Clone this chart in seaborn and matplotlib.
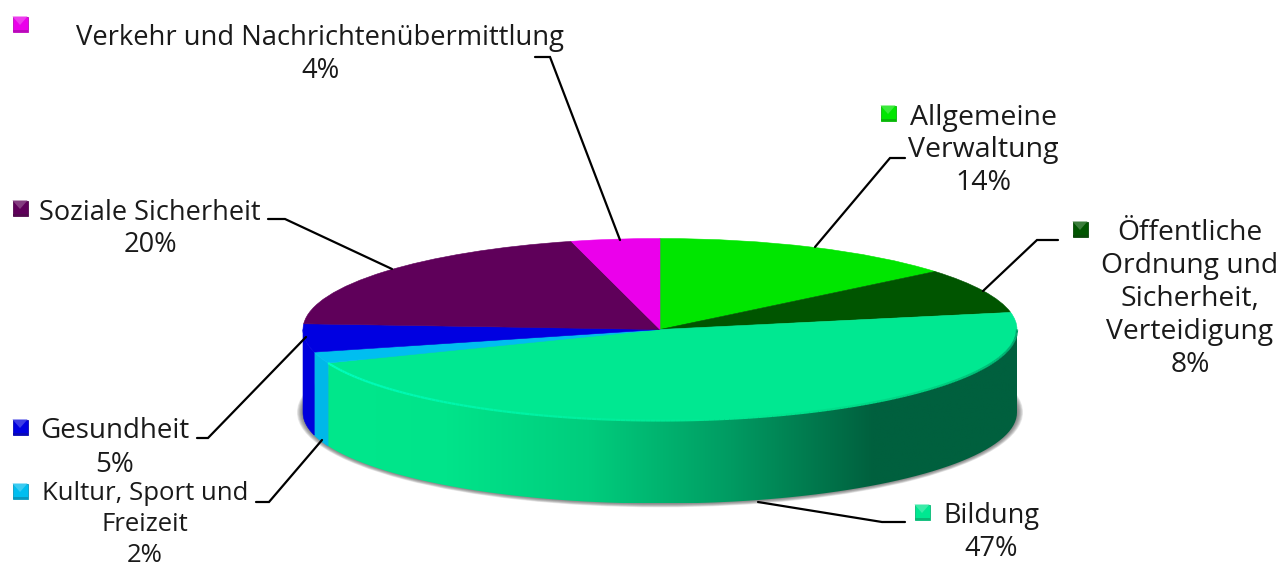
########################################################
# Required Python Packages
########################################################
import numpy as np
import seaborn as sns
import matplotlib.pyplot as plt
from matplotlib.patches import Ellipse, Polygon

########################################################
# Chart data
########################################################
CATEGORIES = ["Allgemeine Verwaltung", "Öffentliche Ordnung und Sicherheit, Verteidigung",
              "Bildung", "Kultur, Sport und Freizeit", "Gesundheit",
              "Soziale Sicherheit", "Verkehr und Nachrichtenübermittlung"]
SHARES = [14, 8, 47, 2, 5, 20, 4]
TOP_COLORS = ["#00E600", "#005500", "#00E891", "#00BEF0", "#0000E1", "#5F005A", "#EB00EB"]
SIDE_COLORS = ["#00C800", "#004800", "#00E88C", "#00B8E8", "#0000DC", "#500050", "#C800C8"]
# left to right shading of the big Bildung wall
BILDUNG_SHADE = ["#00E88C", "#00E48A", "#00CD7D", "#009B62", "#00603E", "#00603E"]
# right to left shading of the rim of the Bildung top
RIM_SHADE = ["#00A06A", "#00D080", "#00E891", "#00F5A8", "#00FFC0"]

LABEL_LINES = [["Allgemeine", "Verwaltung", "14%"],
               ["Öffentliche", "Ordnung und", "Sicherheit,", "Verteidigung", "8%"],
               ["Bildung", "47%"],
               ["Kultur, Sport und", "Freizeit", "2%"],
               ["Gesundheit", "5%"],
               ["Soziale Sicherheit", "20%"],
               ["Verkehr und Nachrichtenübermittlung", "4%"]]

########################################################
# Layout (pixels of the 1277x568 picture)
########################################################
W, H = 1277, 568
CX, CY, RX, RY = 660, 329.5, 357, 91
DEPTH = 83 / RY
LABEL_XY = [(983, 117.5), (1190, 232.5), (991, 516.5), (145, 494), (115, 431.5), (150, 212.5), (320, 38.5)]
LABEL_STEP = [33, 33, 33, 30.5, 33, 33, 33]
LABEL_SIZE = [20.5, 20.3, 19.5, 18.5, 20, 19.5, 19.7]
MARKER_XY = [(888, 113), (1080, 229), (922, 512), (20, 491), (20, 427), (20, 208), (20, 24)]
LEADERS = [[(815, 247), (890, 158), (905, 158)],
           [(983, 291), (1037, 240), (1058, 240)],
           [(758, 502), (882, 522), (905, 522)],
           [(322, 440), (269, 502), (256, 502)],
           [(306, 337), (208, 438), (197, 438)],
           [(392, 269), (285, 219), (268, 219)],
           [(620, 240), (550, 57), (535, 57)]]

sns.set_theme(style="white")
plt.rcParams['font.family'] = ['Open Sans', 'DejaVu Sans']


########################################################
# Soft shadow below the pie, stacked see-through ellipses
########################################################
def DrawShadow(ax):
    steps = 8
    for i in range(steps):
        grow = 1 - i / steps
        ax.add_patch(Ellipse((0, -DEPTH + 0.18 / RY), 2 * (1 + 6 * grow / RX), 2 * (1 + 4 * grow / RY),
                             fc="#555555", ec="none", alpha=0.13, zorder=1))


########################################################
# Wall of one wedge, only the front half of the rim shows
########################################################
def WallPoints(theta1, theta2):
    low, high = max(theta1, -180), min(theta2, 0)
    if low >= high:
        return None
    t = np.radians(np.linspace(low, high, 80))
    top = np.column_stack([np.cos(t), np.sin(t)])
    bottom = top[::-1] - [0, DEPTH]
    return np.vstack([top, bottom])


def DrawWalls(ax, wedges):
    for i, wedge in enumerate(wedges):
        pts = WallPoints(wedge.theta1, wedge.theta2)
        if pts is None:
            continue
        if CATEGORIES[i] == "Bildung":
            shade = np.array(sns.blend_palette(BILDUNG_SHADE, n_colors=256))[np.newaxis, :, :]
            im = ax.imshow(shade, extent=(-1, 1, -1 - DEPTH, 1), aspect='auto', zorder=2, interpolation='bilinear')
            im.set_clip_path(Polygon(pts, transform=ax.transData))
        else:
            ax.fill(pts[:, 0], pts[:, 1], color=SIDE_COLORS[i], lw=0.4, zorder=2)


########################################################
# Bevel along the front rim of the Bildung wedge
########################################################
def DrawRim(ax, wedge):
    t = np.radians(np.linspace(min(wedge.theta2, 0), wedge.theta1, 200))
    shades = sns.blend_palette(RIM_SHADE, n_colors=len(t))
    for j in range(len(t) - 1):
        ax.plot(np.cos(t[j:j + 2]), np.sin(t[j:j + 2]), color=shades[j], lw=1.6, zorder=4,
                solid_capstyle='butt')


########################################################
# Small bevelled legend key next to each label
########################################################
def DrawKey(ax, x, y, color):
    s = 7.5
    light = sns.light_palette(color, n_colors=5, reverse=True)[1]
    dark = sns.dark_palette(color, n_colors=5, reverse=True)[1]
    ax.add_patch(Polygon([(x - s, y - s), (x + s, y - s), (x + s, y + s), (x - s, y + s)], fc=color, ec=dark, lw=0.6))
    ax.add_patch(Polygon([(x - s, y - s), (x + s, y - s), (x, y + 1)], fc=light, ec="none"))
    ax.add_patch(Polygon([(x - s, y + s - 2), (x + s, y + s - 2), (x + s, y + s), (x - s, y + s)], fc=dark, ec="none"))


def main():
    fig = plt.figure(figsize=(W / 100, H / 100), dpi=100)

    # pie axes in pie units, radius 1 is squashed by the limits
    ax = fig.add_axes([0, 0, 1, 1])
    wedges, _ = ax.pie(SHARES, colors=TOP_COLORS, startangle=90, counterclock=False, radius=1,
                       wedgeprops={'linewidth': 0.4})
    for wedge in wedges:
        wedge.set_edgecolor(wedge.get_facecolor())
        wedge.set_zorder(3)

    DrawShadow(ax)
    DrawWalls(ax, wedges)
    DrawRim(ax, wedges[CATEGORIES.index("Bildung")])

    ax.set_aspect('auto')
    ax.set_xlim(-CX / RX, (W - CX) / RX)
    ax.set_ylim((CY - H) / RY, CY / RY)
    ax.axis('off')

    # overlay in pixel coordinates for labels, keys and leader lines
    over = fig.add_axes([0, 0, 1, 1], facecolor='none')
    over.set_xlim(0, W)
    over.set_ylim(H, 0)
    over.axis('off')

    for i, lines in enumerate(LABEL_LINES):
        x, y = LABEL_XY[i]
        for n, line in enumerate(lines):
            over.text(x, y + n * LABEL_STEP[i], line, ha='center', va='center', fontsize=LABEL_SIZE[i], color="#1A1A1A")
        DrawKey(over, *MARKER_XY[i], TOP_COLORS[i])
        pts = np.array(LEADERS[i])
        over.plot(pts[:, 0], pts[:, 1], color="black", lw=1.6, solid_joinstyle='miter')

    fig.savefig("out.png", dpi=100)


if __name__ == "__main__":
    main()
